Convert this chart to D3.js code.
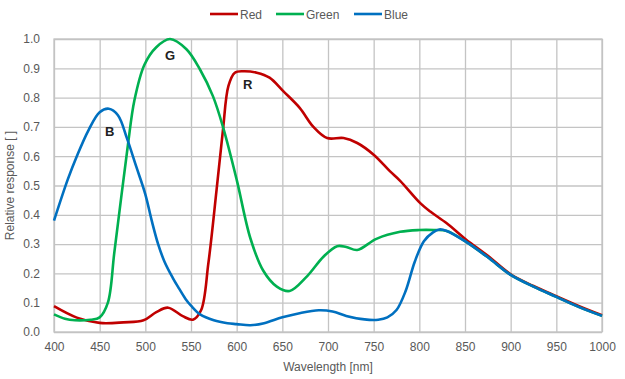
<!DOCTYPE html>
<html>
<head>
<meta charset="utf-8">
<script src="https://cdn.jsdelivr.net/npm/d3@7"></script>
<style>
  body { margin: 0; background: #fff; }
  svg text { font-family: "Liberation Sans", Arial, sans-serif; }
</style>
</head>
<body>
<svg id="chart" width="625" height="379"></svg>
<script>
// spectral response
var redNm   = [400, 425, 450, 476, 498, 512, 525, 541, 552, 561, 569, 578, 585, 591, 598, 607, 622, 636, 651, 669, 684, 699, 717, 732, 750, 768, 779, 801, 812, 830, 851, 875, 900, 925, 950, 975, 1000];
var redVal  = [0.088, 0.049, 0.031, 0.033, 0.04, 0.068, 0.083, 0.054, 0.042, 0.074, 0.234, 0.485, 0.69, 0.84, 0.885, 0.89, 0.885, 0.868, 0.822, 0.765, 0.70, 0.662, 0.662, 0.645, 0.605, 0.548, 0.516, 0.44, 0.411, 0.371, 0.316, 0.26, 0.197, 0.157, 0.122, 0.088, 0.057];

var greenNm  = [400, 412, 423, 440, 450, 459, 466, 474, 481, 488, 499, 512, 527, 545, 560, 574, 585, 600, 615, 629, 644, 658, 677, 695, 710, 720, 732, 753, 779, 800, 816, 830, 850, 875, 900, 925, 950, 975, 1000];
var greenVal = [0.06, 0.045, 0.04, 0.042, 0.05, 0.10, 0.27, 0.47, 0.64, 0.79, 0.912, 0.972, 1.0, 0.965, 0.895, 0.805, 0.70, 0.52, 0.32, 0.21, 0.155, 0.14, 0.19, 0.257, 0.293, 0.29, 0.28, 0.318, 0.342, 0.348, 0.348, 0.345, 0.31, 0.255, 0.195, 0.155, 0.12, 0.085, 0.055];

var blueNm  = [400, 415, 425, 438, 450, 460, 470, 480, 490, 500, 507, 514, 521, 530, 537, 544, 550, 560, 575, 590, 600, 615, 630, 650, 670, 690, 705, 720, 740, 755, 765, 775, 785, 795, 805, 815, 822, 830, 850, 875, 900, 925, 950, 975, 1000];
var blueVal = [0.38, 0.52, 0.60, 0.69, 0.75, 0.762, 0.74, 0.66, 0.565, 0.47, 0.38, 0.30, 0.24, 0.185, 0.148, 0.113, 0.09, 0.06, 0.04, 0.03, 0.027, 0.023, 0.03, 0.05, 0.065, 0.074, 0.07, 0.055, 0.043, 0.042, 0.05, 0.075, 0.14, 0.24, 0.31, 0.34, 0.35, 0.345, 0.31, 0.255, 0.195, 0.155, 0.12, 0.085, 0.055];

var xTicks = d3.range(400, 1001, 50);
var yTicks = d3.range(0, 1.01, 0.1);

var series = [
  { name: "Red",   color: "#c00000", nm: redNm,   val: redVal,   tag: "R", tagAt: [612, 0.83] },
  { name: "Green", color: "#00b050", nm: greenNm, val: greenVal, tag: "G", tagAt: [527, 0.93] },
  { name: "Blue",  color: "#0070c0", nm: blueNm,  val: blueVal,  tag: "B", tagAt: [461, 0.67] }
];

var svg = d3.select("#chart"),
    margin = { top: 39, right: 23, bottom: 47, left: 54 },
    width = +svg.attr("width") - margin.left - margin.right,
    height = +svg.attr("height") - margin.top - margin.bottom;

var g = svg.append("g").attr("transform", "translate(" + margin.left + "," + margin.top + ")");

var x = d3.scaleLinear().domain([400, 1000]).range([0, width]);
var y = d3.scaleLinear().domain([0, 1]).range([height, 0]);

// grid
g.append("g")
  .attr("transform", "translate(0," + height + ")")
  .call(d3.axisBottom(x).tickValues(xTicks).tickSize(-height).tickPadding(10).tickFormat(d3.format("d")))
  .call(function (a) {
    a.select(".domain").remove();
    a.selectAll("line").attr("stroke", "#c4c4c4").attr("stroke-width", 1.3);
    a.selectAll("text").attr("fill", "#595959").style("font-size", "12px");
  });

g.append("g")
  .call(d3.axisLeft(y).tickValues(yTicks).tickSize(-width).tickPadding(14).tickFormat(d3.format(".1f")))
  .call(function (a) {
    a.select(".domain").remove();
    a.selectAll("line").attr("stroke", "#c4c4c4").attr("stroke-width", 1.3);
    a.selectAll("text").attr("fill", "#595959").style("font-size", "12px");
  });

g.append("rect")
  .attr("width", width).attr("height", height)
  .attr("fill", "none").attr("stroke", "#c4c4c4").attr("stroke-width", 1.3);

var line = d3.line()
  .x(function (d) { return x(d[0]); })
  .y(function (d) { return y(d[1]); })
  .curve(d3.curveCatmullRom.alpha(0.5));

g.selectAll(".curve")
  .data(series)
  .enter().append("path")
  .attr("class", "curve")
  .attr("fill", "none")
  .attr("stroke", function (d) { return d.color; })
  .attr("stroke-width", 2.6)
  .attr("stroke-linejoin", "round")
  .attr("d", function (d) { return line(d.nm.map(function (n, i) { return [n, d.val[i]]; })); });

g.selectAll(".tag")
  .data(series)
  .enter().append("text")
  .attr("class", "tag")
  .attr("x", function (d) { return x(d.tagAt[0]); })
  .attr("y", function (d) { return y(d.tagAt[1]); })
  .attr("text-anchor", "middle")
  .attr("font-weight", "bold")
  .attr("fill", "#222")
  .style("font-size", "13px")
  .text(function (d) { return d.tag; });

// axis titles
svg.append("text")
  .attr("x", margin.left + width / 2)
  .attr("y", 371)
  .attr("text-anchor", "middle")
  .attr("fill", "#595959")
  .style("font-size", "12px")
  .text("Wavelength [nm]");

svg.append("text")
  .attr("transform", "translate(14," + (margin.top + height / 2) + ") rotate(-90)")
  .attr("text-anchor", "middle")
  .attr("fill", "#595959")
  .style("font-size", "12px")
  .text("Relative response [ ]");

// legend
var legendX = [210, 276, 354];
var legend = svg.selectAll(".legend")
  .data(series)
  .enter().append("g")
  .attr("class", "legend")
  .attr("transform", function (d, i) { return "translate(" + legendX[i] + ",14)"; });

legend.append("line")
  .attr("x1", 0).attr("x2", 28)
  .attr("stroke", function (d) { return d.color; })
  .attr("stroke-width", 2.6);

legend.append("text")
  .attr("x", 30).attr("y", 4.5)
  .attr("fill", "#595959")
  .style("font-size", "12px")
  .text(function (d) { return d.name; });
</script>
</body>
</html>
